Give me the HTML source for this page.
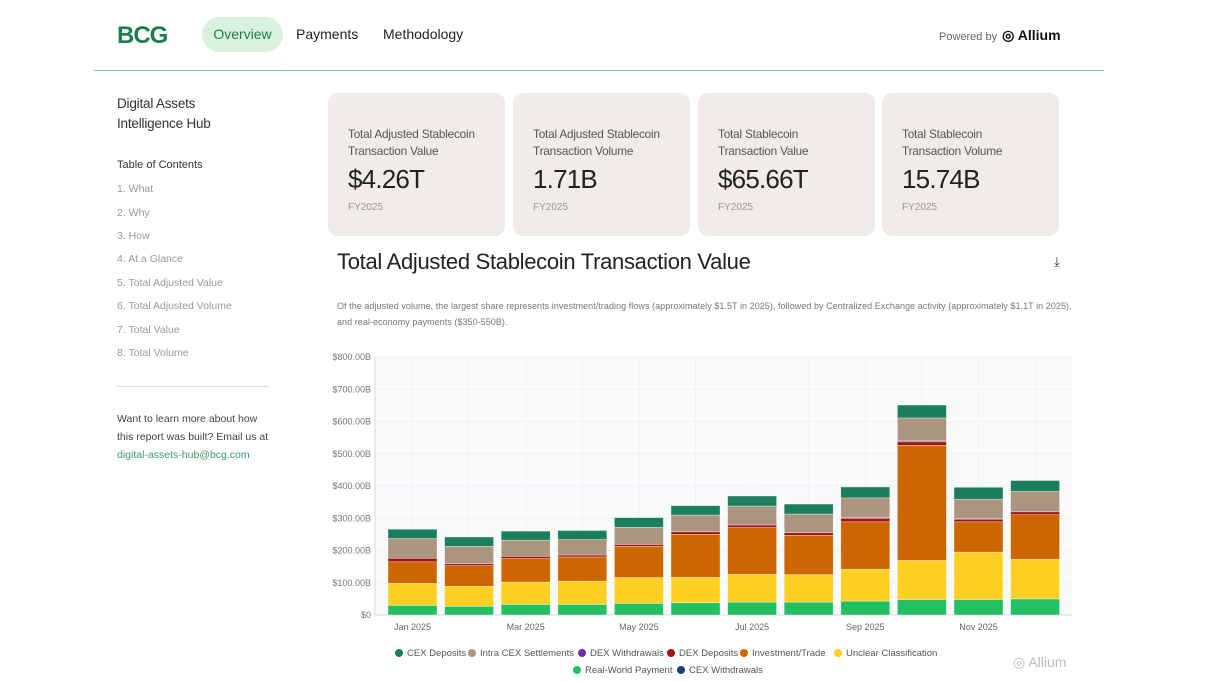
<!DOCTYPE html>
<html><head><meta charset="utf-8">
<style>
*{box-sizing:border-box;margin:0;padding:0}
body{width:1214px;height:682px;background:#fff;font-family:"Liberation Sans",sans-serif;position:relative;overflow:hidden;color:#222}
.abs{position:absolute}
.nav{font-size:14px;color:#222}
.toc{font-size:10.5px;color:#999}
.card{position:absolute;top:93px;width:177px;height:143px;background:#f0ede8;border-radius:10px;padding:33px 20px}
.card .t{font-size:11.8px;color:#555;line-height:17px;letter-spacing:-0.2px}
.card .v{font-size:26px;color:#222;margin-top:4px;letter-spacing:-0.8px}
.card .f{font-size:10px;color:#999;margin-top:7px}
.leg{font-size:9.5px;color:#555;position:absolute;white-space:nowrap}
.leg span.d{display:inline-block;width:8px;height:8px;border-radius:50%;margin-right:4px;vertical-align:-1px}
</style></head><body>
<div class="abs" style="left:117px;top:22px;font-size:24px;font-weight:bold;color:#1a7f4b;letter-spacing:-1px">BCG</div>
<div class="abs nav" style="left:202px;top:17px;width:81px;height:35px;background:#d8f2de;border-radius:18px;text-align:center;line-height:35px;color:#1a7f4b">Overview</div>
<div class="abs nav" style="left:296px;top:26px">Payments</div>
<div class="abs nav" style="left:383px;top:26px">Methodology</div>
<div class="abs" style="left:939px;top:27px;font-size:11px;color:#666">Powered by <b style="font-size:14px;color:#111;margin-left:2px">◎ Allium</b></div>
<div class="abs" style="left:94px;top:70px;width:1010px;height:1px;background:#8cc9a8"></div>

<div class="abs" style="left:117px;top:94px;font-size:13.5px;line-height:20px;color:#333;letter-spacing:-0.2px">Digital Assets<br>Intelligence Hub</div>
<div class="abs" style="left:117px;top:159px;font-size:11px;color:#333">Table of Contents</div>
<div class="abs toc" style="left:117px;top:183px">1. What</div>
<div class="abs toc" style="left:117px;top:207px">2. Why</div>
<div class="abs toc" style="left:117px;top:230px">3. How</div>
<div class="abs toc" style="left:117px;top:253px">4. At a Glance</div>
<div class="abs toc" style="left:117px;top:277px">5. Total Adjusted Value</div>
<div class="abs toc" style="left:117px;top:300px">6. Total Adjusted Volume</div>
<div class="abs toc" style="left:117px;top:324px">7. Total Value</div>
<div class="abs toc" style="left:117px;top:347px">8. Total Volume</div>
<div class="abs" style="left:117px;top:386px;width:152px;height:1px;background:#ddd"></div>
<div class="abs" style="left:117px;top:410px;font-size:10.5px;line-height:18px;color:#444">Want to learn more about how<br>this report was built? Email us at<br><span style="color:#3a9a6a">digital-assets-hub@bcg.com</span></div>

<div class="card" style="left:328px"><div class="t">Total Adjusted Stablecoin Transaction Value</div><div class="v">$4.26T</div><div class="f">FY2025</div></div>
<div class="card" style="left:513px"><div class="t">Total Adjusted Stablecoin Transaction Volume</div><div class="v">1.71B</div><div class="f">FY2025</div></div>
<div class="card" style="left:698px"><div class="t">Total Stablecoin Transaction Value</div><div class="v">$65.66T</div><div class="f">FY2025</div></div>
<div class="card" style="left:882px"><div class="t">Total Stablecoin Transaction Volume</div><div class="v">15.74B</div><div class="f">FY2025</div></div>

<div class="abs" style="left:337px;top:249px;font-size:22px;color:#222;letter-spacing:-0.3px">Total Adjusted Stablecoin Transaction Value</div>
<div class="abs" style="left:1054px;top:254px;font-size:13px;color:#333">⤓</div>
<div class="abs" style="left:337px;top:298px;width:740px;font-size:9px;line-height:16px;color:#777;letter-spacing:0.05px">Of the adjusted volume, the largest share represents investment/trading flows (approximately $1.5T in 2025), followed by Centralized Exchange activity (approximately $1.1T in 2025), and real-economy payments ($350-550B).</div>

<svg class="abs" style="left:0;top:0" width="1214" height="682" id="chart"></svg>

<div class="leg" style="left:395px;top:648px"><span class="d" style="background:#1a7f5a"></span>CEX Deposits</div>
<div class="leg" style="left:468px;top:648px"><span class="d" style="background:#ab9580"></span>Intra CEX Settlements</div>
<div class="leg" style="left:578px;top:648px"><span class="d" style="background:#6b2fa0"></span>DEX Withdrawals</div>
<div class="leg" style="left:667px;top:648px"><span class="d" style="background:#a31212"></span>DEX Deposits</div>
<div class="leg" style="left:740px;top:648px"><span class="d" style="background:#cc6600"></span>Investment/Trade</div>
<div class="leg" style="left:834px;top:648px"><span class="d" style="background:#ffcf24"></span>Unclear Classification</div>
<div class="leg" style="left:573px;top:665px"><span class="d" style="background:#22c063"></span>Real-World Payment</div>
<div class="leg" style="left:677px;top:665px"><span class="d" style="background:#1a3e7a"></span>CEX Withdrawals</div>
<div class="abs" style="left:1013px;top:654px;font-size:14px;color:#bbb">◎ Allium</div>

<script>
const months=["Jan","Feb","Mar","Apr","May","Jun","Jul","Aug","Sep","Oct","Nov","Dec"];
const tickLabels=["$0","$100.00B","$200.00B","$300.00B","$400.00B","$500.00B","$600.00B","$700.00B","$800.00B"];
const tickValues=[0,100,200,300,400,500,600,700,800];
const xLabels=["Jan 2025","Mar 2025","May 2025","Jul 2025","Sep 2025","Nov 2025"];
const xLabelIdx=[0,2,4,6,8,10];
const realWorld=[30,27,33,33,36,38,40,40,43,48,48,50];
const unclear=[68,62,69,72,80,79,86,85,99,121,147,123];
const investment=[67,64,73,75,97,133,145,122,147,357,94,138];
const dexDeposits=[11,6,7,6,6,8,8,8,11,11,8,9];
const dexWithdrawals=[0,0,0,0,0,0,0,0,2,3,2,0];
const intraCex=[61,54,50,48,53,52,59,58,61,71,60,63];
const cexDeposits=[29,29,28,28,30,29,31,31,34,40,37,34];
const series=[[realWorld,"#22c063","real-world"],[unclear,"#ffcf24","unclear"],[investment,"#cc6600","investment"],[dexDeposits,"#a31212","dex-deposits"],[dexWithdrawals,"#6b2fa0","dex-withdrawals"],[intraCex,"#ab9580","intra-cex"],[cexDeposits,"#1a7f5a","cex-deposits"]];
const svg=document.getElementById('chart');const NS="http://www.w3.org/2000/svg";
const y0=615,yTop=357,plotL=375,plotR=1072;
function y(v){return y0-v*(y0-yTop)/800;}
const firstC=412.5,step=56.6;
function x(i){return firstC+step*i;}
function mk(t,a){const e=document.createElementNS(NS,t);for(const k in a)e.setAttribute(k,a[k]);svg.appendChild(e);return e;}
const bg=mk('rect',{x:plotL,y:yTop,width:plotR-plotL,height:y0-yTop,fill:'#f9fafc'});


tickValues.forEach((v,i)=>{
 const g=mk('line',{x1:plotL,x2:plotR,y1:y(v),y2:y(v),stroke:'#eef0f3'});
 
 
 const t=mk('text',{x:371,y:y(v)+3,'text-anchor':'end','font-size':'9','fill':'#777','font-family':'Liberation Sans'});
 t.textContent=tickLabels[i];
 
 
});
months.forEach((m,i)=>{
 const g=mk('line',{x1:x(i),x2:x(i),y1:yTop,y2:y0,stroke:'#f0f2f5'});
 
 
});
const ax=mk('line',{x1:plotL,x2:plotL,y1:yTop,y2:y0,stroke:'#d5dbe0'});


const bx=mk('line',{x1:plotL,x2:plotR,y1:y0,y2:y0,stroke:'#d5dbe0'});


const bw=49;
months.forEach((m,i)=>{
 let acc=0;
 series.forEach(s=>{
  const v=s[0][i];if(v<=0)return;
  const r=mk('rect',{x:x(i)-bw/2,y:y(acc+v),width:bw,height:y(acc)-y(acc+v),fill:s[1],stroke:'rgba(255,255,255,0.6)','stroke-width':'0.6'});
  
  
  acc+=v;
 });
});
xLabels.forEach((l,k)=>{
 const t=mk('text',{x:x(xLabelIdx[k]),y:630,'text-anchor':'middle','font-size':'9','fill':'#666','font-family':'Liberation Sans'});
 t.textContent=l;
 
 
});
</script>
</body></html>
